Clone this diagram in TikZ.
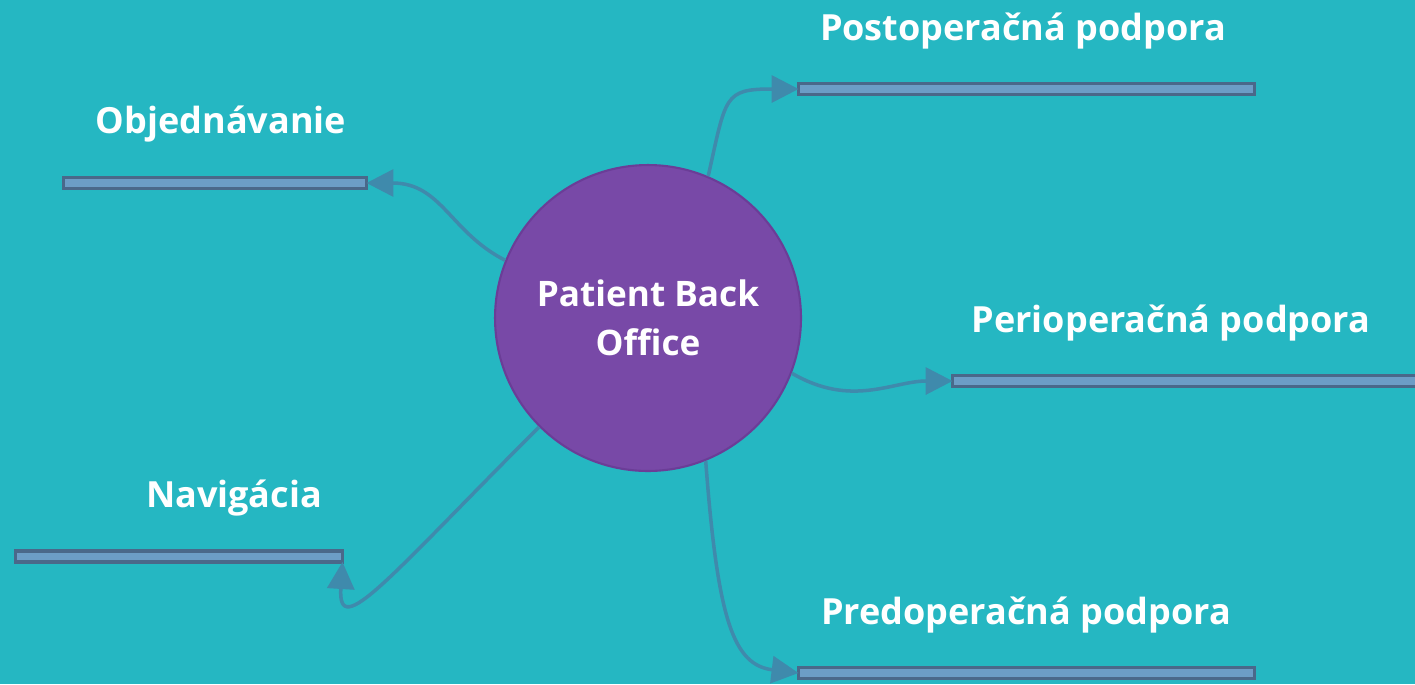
\documentclass[tikz,border=0pt]{standalone}
\usepackage{fontspec}
\setmainfont{Open Sans}
\usetikzlibrary{arrows.meta}
\definecolor{tealbg}{HTML}{25B7C2}
\definecolor{hubfill}{HTML}{7849A7}
\definecolor{hubline}{HTML}{6B3D97}
\definecolor{barfill}{HTML}{6C9DC6}
\definecolor{barline}{HTML}{4A688A}
\definecolor{linkcol}{HTML}{3F8AAC}
\tikzset{
  hub/.style={circle,fill=hubfill,draw=hubline,line width=1.2pt,minimum size=6.12cm,
    text=white,align=center,font=\bfseries\fontsize{20}{28}\selectfont,inner sep=0pt},
  bar/.style={rectangle,fill=barfill,draw=barline,line width=2.2pt,minimum height=0.22cm,
    inner sep=0pt,outer sep=0pt},
  lbl/.style={text=white,font=\bfseries\fontsize{20.5}{22}\selectfont,inner sep=0pt},
  link/.style={draw=linkcol,line width=2pt,-{Triangle[length=0.54cm,width=0.54cm]}}
}
\begin{document}
\begin{tikzpicture}[x=0.02cm,y=0.02cm]
\fill[tealbg] (0,0) rectangle (1415,-684);
\useasboundingbox (0,0) rectangle (1415,-684);
%
\node[hub] (pbo) at (648,-318) {Patient Back\\Office};
%
\node[bar,minimum width=6.06cm] (obj) at (215,-183) {};
\node[lbl] (objlbl) at (221,-124) {Objednávanie};
%
\node[bar,minimum width=6.54cm] (nav) at (179,-556.5) {};
\node[lbl] (navlbl) at (234,-498) {Navigácia};
%
\node[bar,minimum width=9.12cm] (post) at (1026.5,-89) {};
\node[lbl] (postlbl) at (1023,-31) {Postoperačná podpora};
%
\node[bar,minimum width=9.5cm] (peri) at (1190,-381) {};
\node[lbl] (perilbl) at (1171,-323) {Perioperačná podpora};
%
\node[bar,minimum width=9.12cm] (pred) at (1026.5,-673) {};
\node[lbl] (predlbl) at (1026,-615) {Predoperačná podpora};
%
\draw[link] (pbo.158.6) .. controls +(-55,28) and +(75,0) .. (obj.east);
\draw[link] (pbo.225.5) .. controls +(-150,-150) and +(-5,-80) .. (nav.south east);
\draw[link] (pbo.67.9) .. controls +(18,80) and +(-75,0) .. (post.west);
\draw[link] (pbo.-21.9) .. controls +(60,-35) and +(-60,0) .. (peri.west);
\draw[link] (pbo.-68) .. controls +(12,-160) and +(-65,8) .. (pred.west);
\end{tikzpicture}
\end{document}
